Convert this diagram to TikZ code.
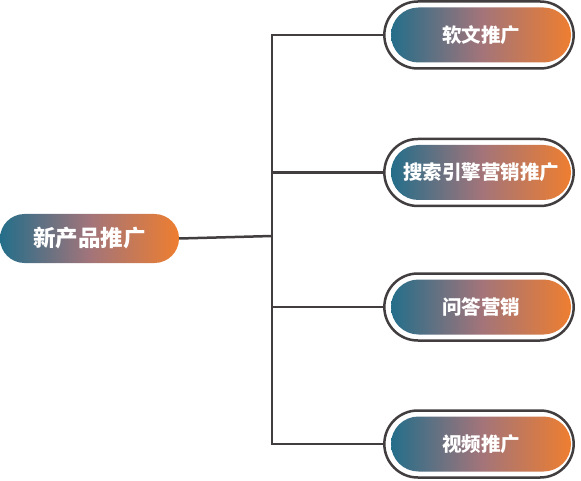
\documentclass[tikz,border=0pt]{standalone}
\usepackage{fontspec}
\newfontfamily\cjk{Noto Sans CJK SC}
\usetikzlibrary{shapes}
\definecolor{pillteal}{RGB}{36,110,138}
\definecolor{pillmauve}{RGB}{162,116,122}
\definecolor{pillorange}{RGB}{238,126,48}
\definecolor{linegray}{RGB}{66,62,64}
\tikzstyle{pill}=[rounded rectangle, left color=pillteal, right color=pillorange, middle color=pillmauve, text=white, inner sep=0pt, font=\cjk\bfseries\fontsize{19.5}{20}\selectfont]
\tikzstyle{ring}=[rounded rectangle, draw=linegray, line width=2.5pt, fill=white, minimum width=196pt, minimum height=67pt]
\tikzstyle{connector}=[draw=linegray, line width=2.5pt]

\begin{document}
\begin{tikzpicture}[x=1pt,y=1pt]
		\useasboundingbox (0,0) rectangle (581,480);
		\node[pill, minimum width=179pt, minimum height=49pt, font=\cjk\bfseries\fontsize{22.5}{23}\selectfont] (root) at (89.5,241.5) {新产品推广};
		\foreach \name/\y/\txt in {soft/445/软文推广, search/307.5/搜索引擎营销推广, qa/173/问答营销, video/36/视频推广} {
			\node[ring] (\name) at (479,\y) {};
			\node[pill, minimum width=180pt, minimum height=55pt] (\name-txt) at (481,\y) {\txt};
		}
		\coordinate (hub) at (272,244);
		\draw[connector] (root.east) -- (hub);
		\foreach \name in {soft,search,qa,video}
			\draw[connector] (hub) |- (\name.west);
	\end{tikzpicture}
\end{document}
